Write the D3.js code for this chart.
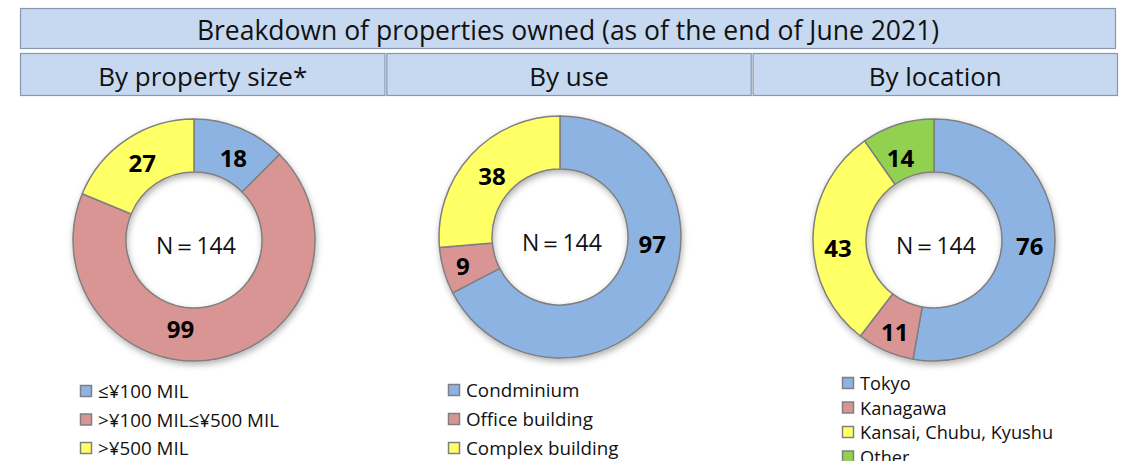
<!DOCTYPE html>
<html>
<head>
<meta charset="utf-8">
<script src="https://cdn.jsdelivr.net/npm/d3@7"></script>
<style>
  body { margin: 0; background: #fff; }
  svg { display: block; font-family: "Open Sans", "Noto Sans", sans-serif; }
</style>
</head>
<body>
<svg width="1122" height="461"></svg>
<script>
const title = "Breakdown of properties owned (as of the end of June 2021)";
const panelTitles = ["By property size*", "By use", "By location"];

const sizeCategories = ["≤¥100 MIL", ">¥100 MIL≤¥500 MIL", ">¥500 MIL"];
const sizeValues = [18, 99, 27];

const useCategories = ["Condminium", "Office building", "Complex building"];
const useValues = [97, 9, 38];

const locationCategories = ["Tokyo", "Kanagawa", "Kansai, Chubu, Kyushu", "Other"];
const locationValues = [76, 11, 43, 14];

const centerText = "N＝144";

const colors = ["#8db3e2", "#d99594", "#ffff66", "#92d050"];

// manual label nudges (the original labels were dragged around a bit)
const labelNudge = [
  [[3, 5], [-32, -5], [1, 1]],
  [[11, -43], [-6, 2], [2, 3]],
  [[1, -3], [-1, 5], [-1, 10], [-5, 8]]
];

const svg = d3.select('svg');

// shadow used by the rings
const defs = svg.append('defs');
const shadow = defs.append('filter')
  .attr('id', 'shadow')
  .attr('x', '-20%').attr('y', '-20%')
  .attr('width', '140%').attr('height', '140%');
shadow.append('feDropShadow')
  .attr('dx', 1).attr('dy', 3)
  .attr('stdDeviation', 3)
  .attr('flood-color', '#000')
  .attr('flood-opacity', 0.3);

// header boxes
function headerBox(x, y, w, h, text, size) {
  svg.append('rect')
    .attr('x', x).attr('y', y)
    .attr('width', w).attr('height', h)
    .attr('fill', '#c6d9f1')
    .attr('stroke', '#8797ae')
    .attr('stroke-width', 1.2);
  svg.append('text')
    .attr('x', x + w / 2)
    .attr('y', y + h / 2 + 1)
    .attr('text-anchor', 'middle')
    .attr('dominant-baseline', 'central')
    .attr('font-size', size)
    .attr('fill', '#111')
    .text(text);
}

headerBox(20.5, 8.5, 1095, 40, title, 26.5);

const panelX = d3.scaleBand()
  .domain(d3.range(3))
  .range([20.5, 1117.5])
  .paddingInner(0.005);

panelTitles.forEach((t, i) => {
  headerBox(panelX(i), 53.5, panelX.bandwidth(), 42, t, 26);
});

const charts = [
  { cats: sizeCategories, vals: sizeValues, cx: 194, cy: 240, legendX: 80, legendY: 391, legendStep: 28.5, legendSize: 18.8 },
  { cats: useCategories, vals: useValues, cx: 560, cy: 237, legendX: 448, legendY: 390, legendStep: 29, legendSize: 18.8 },
  { cats: locationCategories, vals: locationValues, cx: 934, cy: 240, legendX: 842, legendY: 383, legendStep: 24.5, legendSize: 18.2 }
];

const outerR = 121;
const innerR = 68;

const pie = d3.pie().sort(null).value(d => d);
const arc = d3.arc().innerRadius(innerR).outerRadius(outerR);
const labelArc = d3.arc().innerRadius(95).outerRadius(95);

charts.forEach((c, ci) => {
  const g = svg.append('g')
    .attr('transform', `translate(${c.cx},${c.cy})`);

  const ring = g.append('g').attr('filter', 'url(#shadow)');
  const arcs = pie(c.vals);

  ring.selectAll('path')
    .data(arcs)
    .join('path')
    .attr('d', arc)
    .attr('fill', (d, i) => colors[i])
    .attr('stroke', '#7f7f7f')
    .attr('stroke-width', 1.5)
    .attr('stroke-linejoin', 'round');

  g.selectAll('text.val')
    .data(arcs)
    .join('text')
    .attr('class', 'val')
    .attr('x', (d, i) => labelArc.centroid(d)[0] + labelNudge[ci][i][0])
    .attr('y', (d, i) => labelArc.centroid(d)[1] + labelNudge[ci][i][1])
    .attr('text-anchor', 'middle')
    .attr('dominant-baseline', 'central')
    .attr('font-size', 24)
    .attr('font-weight', 'bold')
    .attr('fill', '#000')
    .text(d => d.data);

  g.append('text')
    .attr('x', 2)
    .attr('y', 5)
    .attr('text-anchor', 'middle')
    .attr('dominant-baseline', 'central')
    .attr('font-size', 23)
    .attr('fill', '#111')
    .text(centerText);

  // legend
  const lg = svg.append('g')
    .attr('transform', `translate(${c.legendX},${c.legendY})`);
  const items = lg.selectAll('g')
    .data(c.cats)
    .join('g')
    .attr('transform', (d, i) => `translate(0,${i * c.legendStep})`);
  items.append('rect')
    .attr('x', 0.5).attr('y', -5.5)
    .attr('width', 11).attr('height', 11)
    .attr('fill', (d, i) => colors[i])
    .attr('stroke', '#808080')
    .attr('stroke-width', 1.5);
  items.append('text')
    .attr('x', 18)
    .attr('y', 0)
    .attr('dominant-baseline', 'central')
    .attr('font-size', c.legendSize)
    .attr('fill', '#111')
    .text(d => d);
});
</script>
</body>
</html>
